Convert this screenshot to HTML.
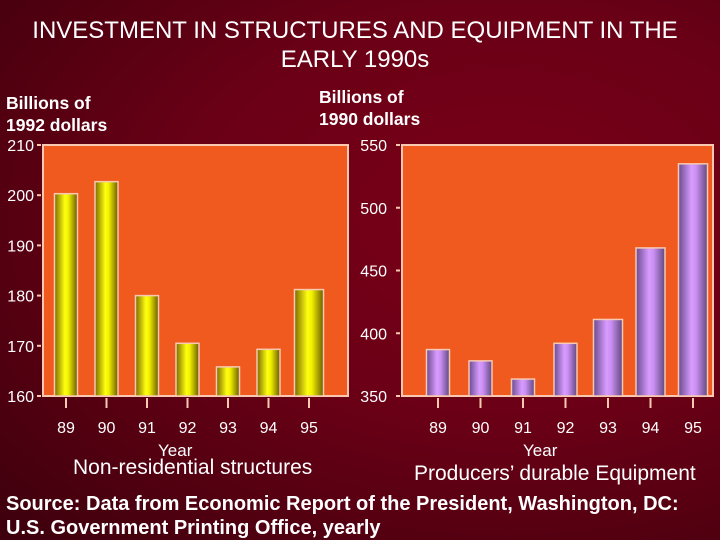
<!DOCTYPE html>
<html><head><meta charset="utf-8"><style>
body{margin:0;}
#root{width:720px;height:540px;position:relative;overflow:hidden;background:radial-gradient(ellipse at 70% 40%,#7a0018 0%,#6a0016 45%,#3c000c 100%);font-family:"Liberation Sans",sans-serif;color:#fff;}
.t{position:absolute;font-weight:normal;white-space:nowrap;}
</style></head><body>
<div id="root">
<div class="t" style="left:0;width:710px;top:16px;text-align:center;font-size:24px;line-height:29px;">INVESTMENT IN STRUCTURES AND EQUIPMENT IN THE<br>EARLY 1990s</div>
<div class="t" style="left:6px;top:92px;font-size:17.5px;font-weight:bold;line-height:22px;">Billions of<br>1992 dollars</div>
<div class="t" style="left:319px;top:86px;font-size:17.5px;font-weight:bold;line-height:22px;">Billions of<br>1990 dollars</div>
<svg id="svg" width="720" height="540" style="position:absolute;left:0;top:0">
<defs>
<linearGradient id="gy" x1="0" x2="1"><stop offset="0" stop-color="#7a6a00"/><stop offset="0.45" stop-color="#ffff10"/><stop offset="0.6" stop-color="#f0f000"/><stop offset="1" stop-color="#6a5a00"/></linearGradient>
<linearGradient id="gp" x1="0" x2="1"><stop offset="0" stop-color="#6a4a90"/><stop offset="0.45" stop-color="#d89cff"/><stop offset="0.6" stop-color="#cc90f4"/><stop offset="1" stop-color="#604880"/></linearGradient>
</defs>
</svg>
<div class="t" style="left:158px;top:441px;font-size:17px;">Year</div>
<div class="t" style="left:73px;top:456px;font-size:21px;">Non-residential structures</div>
<div class="t" style="left:523px;top:441px;font-size:17px;">Year</div>
<div class="t" style="left:414px;top:462px;font-size:21px;">Producers’ durable Equipment</div>
<div class="t" style="left:6px;top:492px;font-size:20px;font-weight:bold;line-height:24px;">Source: Data from Economic Report of the President, Washington, DC:<br>U.S. Government Printing Office, yearly</div>
</div>
<script>
const years=["89","90","91","92","93","94","95"];
const leftValues=[200.3,202.7,180,170.5,165.8,169.3,181.2];
const leftTicks=[160,170,180,190,200,210];
const rightValues=[387,378,363.5,392,411,468,535];
const rightTicks=[350,400,450,500,550];
const NS="http://www.w3.org/2000/svg";
const svg=document.getElementById('svg');
function mk(t,a){const e=document.createElementNS(NS,t);for(const k in a)e.setAttribute(k,a[k]);svg.appendChild(e);return e;}
function chart(o){
  const ys=v=>o.y0-(v-o.vmin)/(o.vmax-o.vmin)*(o.y0-o.y1);
  const xs=i=>o.c0+i*o.step;
  const bg=mk('rect',{x:o.x0,y:o.y1,width:o.x1-o.x0,height:o.y0-o.y1,fill:'#f15a1e',stroke:'#f8c8b0','stroke-width':2});
  
  
  o.ticks.forEach(t=>{
    const l=mk('line',{x1:o.x0-6,x2:o.x0-2,y1:ys(t),y2:ys(t),stroke:'#f8c8b0','stroke-width':2});
    
    
    const tx=mk('text',{x:o.x0-o.lblOff,y:ys(t)+6,'text-anchor':'end','font-size':16,fill:'#fff','font-family':'Liberation Sans'});
    tx.textContent=t;
    
    
  });
  o.vals.forEach((v,i)=>{
    const w=(i>=o.wideFrom)?29:23;
    const r=mk('rect',{x:xs(i)-w/2,y:ys(v),width:w,height:o.y0-ys(v),fill:o.fill,stroke:'#f8c8b0','stroke-width':1.5});
    
    
    const l=mk('line',{x1:xs(i),x2:xs(i),y1:o.y0+2,y2:o.y0+12,stroke:'#f8c8b0','stroke-width':2});
    
    
    const tx=mk('text',{x:xs(i),y:o.y0+37,'text-anchor':'middle','font-size':16,fill:'#fff','font-family':'Liberation Sans'});
    tx.textContent=years[i];
    
    
  });
}
chart({p:'left',x0:43,x1:348,y0:396,y1:145,vmin:160,vmax:210,ticks:leftTicks,vals:leftValues,c0:66,step:40.5,fill:'url(#gy)',wideFrom:6,lblOff:9});
chart({p:'right',x0:402,x1:713,y0:396,y1:145,vmin:350,vmax:550,ticks:rightTicks,vals:rightValues,c0:438,step:42.5,fill:'url(#gp)',wideFrom:4,lblOff:15});
</script>
</body></html>
